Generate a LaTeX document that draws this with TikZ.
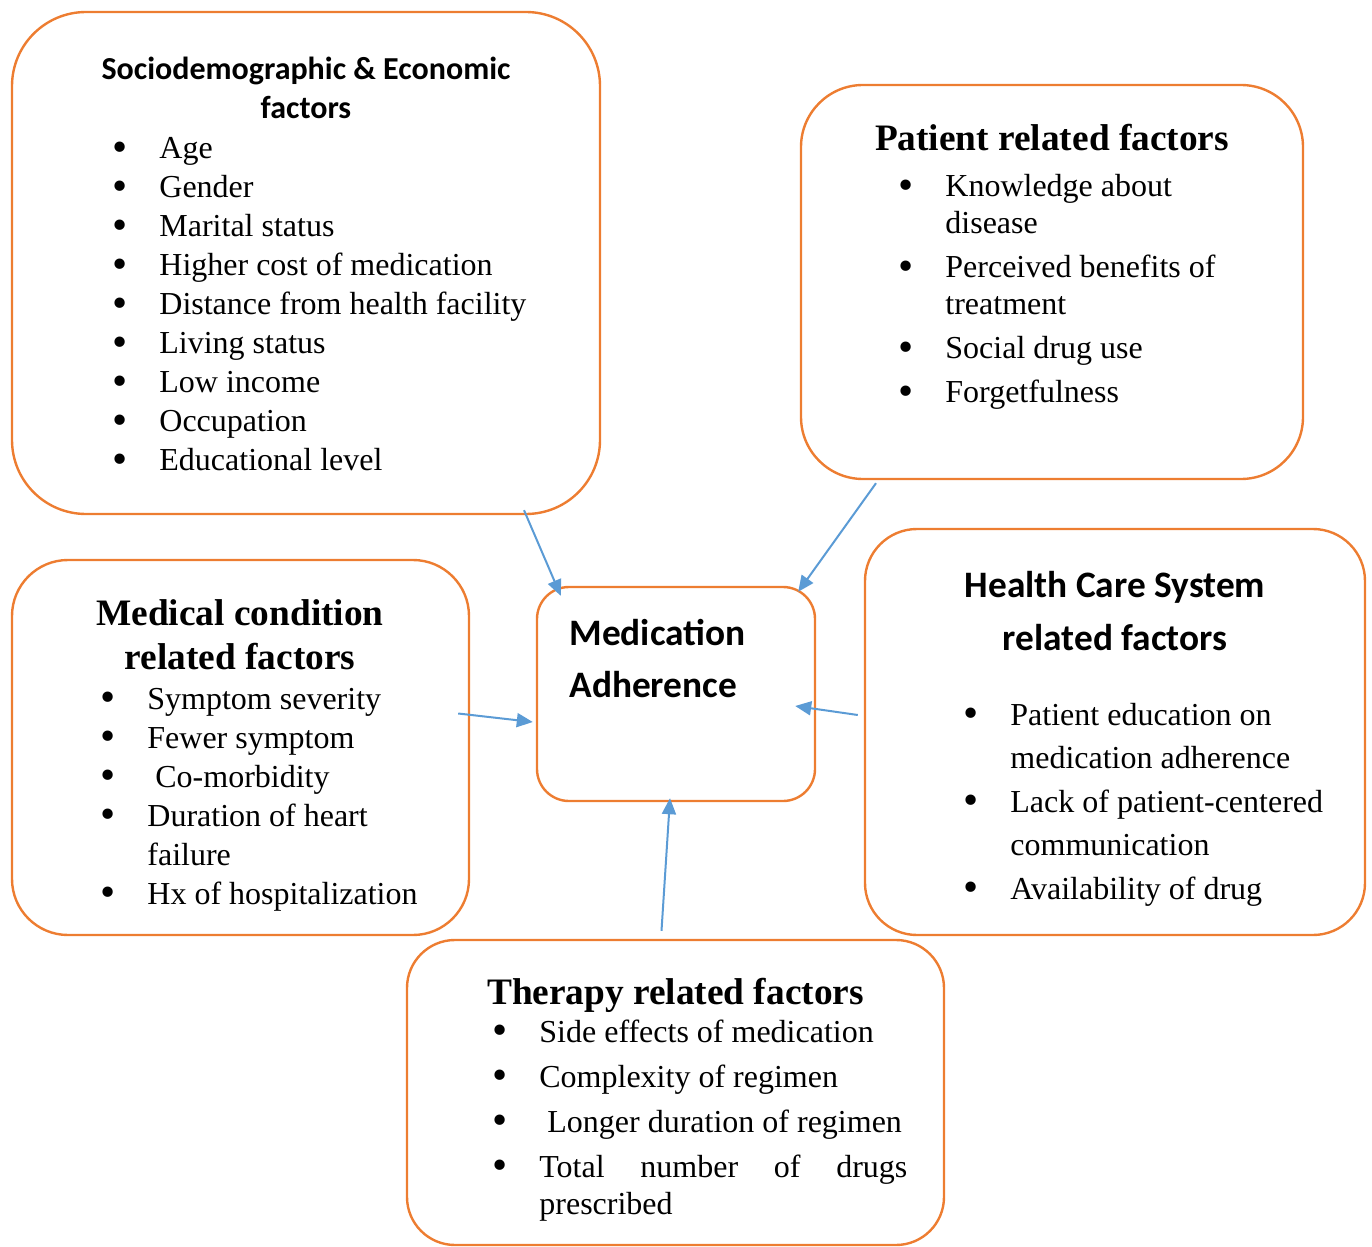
\documentclass[tikz,border=0pt]{standalone}
\usepackage{fontspec}
\setmainfont{Liberation Serif}
\newfontfamily\calibri{Carlito}
\usetikzlibrary{arrows.meta}

\definecolor{boxorange}{HTML}{ED7D31}
\definecolor{linkblue}{HTML}{5B9BD5}

% bullet and hanging indent for the factor lists
\newcommand{\blt}{\makebox[23.5pt][l]{\raisebox{-1.3pt}{\scalebox{1.35}{\textbullet}}}}
\newcommand{\cont}{\hspace*{23.5pt}}

\begin{document}
\begin{tikzpicture}[
  x=0.5pt, y=-0.5pt,
  factor/.style={draw=boxorange, line width=1.2pt, rounded corners=#1, inner sep=0pt},
  factor/.default=30pt,
  title/.style={inner sep=0pt, anchor=base, yshift=-1pt},
  list/.style={inner sep=0pt, anchor=base west, yshift=-1pt},
  flow/.style={draw=linkblue, line width=1pt, -{Triangle[length=8pt,width=7pt]}}
]
\useasboundingbox (0,0) rectangle (1372,1247);

% boxes
\node[factor=37pt, minimum width=294pt, minimum height=251pt] (socio) at (306,263) {};
\node[factor=31pt, minimum width=251pt, minimum height=197pt] (patient) at (1052,282) {};
\node[factor=28pt, minimum width=228.5pt, minimum height=187.5pt] (medical) at (240.5,747.5) {};
\node[factor=16pt, minimum width=139pt, minimum height=107pt] (adh) at (676,694) {};
\node[factor=26pt, minimum width=250pt, minimum height=203pt] (health) at (1115,732) {};
\node[factor=24pt, minimum width=268.5pt, minimum height=152.5pt] (therapy) at (675.5,1092.5) {};

% sociodemographic
\node[title, font=\calibri\bfseries\fontsize{16}{19.5}\selectfont] (socioT) at (306,78)
  {\parbox[t]{280pt}{\centering Sociodemographic \& Economic\\ factors}};
\node[list, font=\fontsize{16}{19.5}\selectfont] (socioL) at (112,157) {\parbox[t]{260pt}{%
  \blt Age\\ \blt Gender\\ \blt Marital status\\ \blt Higher cost of medication\\
  \blt Distance from health facility\\ \blt Living status\\ \blt Low income\\
  \blt Occupation\\ \blt Educational level}};

% patient
\node[title, font=\bfseries\fontsize{18.67}{22}\selectfont] (patientT) at (1052,149) {Patient related factors};
\node[list, font=\fontsize{16}{18.5}\selectfont] (patientL) at (898,195) {\parbox[t]{230pt}{%
  \blt Knowledge about\\ \cont disease\\[3.5pt]
  \blt Perceived benefits of\\ \cont treatment\\[3.5pt]
  \blt Social drug use\\[3.5pt]
  \blt Forgetfulness}};

% medical condition
\node[title, font=\bfseries\fontsize{18.67}{22}\selectfont] (medicalT) at (240,623)
  {\parbox[t]{220pt}{\centering Medical condition\\ related factors}};
\node[list, font=\fontsize{16}{19.5}\selectfont] (medicalL) at (100,707) {\parbox[t]{200pt}{%
  \blt Symptom severity\\ \blt Fewer symptom\\ \blt\hspace{4pt}Co-morbidity\\
  \blt Duration of heart\\ \cont failure\\ \blt Hx of hospitalization}};

% medication adherence
\node[list, font=\calibri\bfseries\fontsize{18.67}{26}\selectfont] (adhT) at (569,643)
  {\parbox[t]{120pt}{Medication\\ Adherence}};

% health care system
\node[title, font=\calibri\bfseries\fontsize{18.67}{26.5}\selectfont] (healthT) at (1115,595)
  {\parbox[t]{230pt}{\centering Health Care System\\ related factors}};
\node[list, font=\fontsize{16}{21.75}\selectfont] (healthL) at (963,723) {\parbox[t]{200pt}{%
  \blt Patient education on\\ \cont medication adherence\\
  \blt Lack of patient-centered\\ \cont communication\\
  \blt Availability of drug}};

% therapy
\node[title, font=\bfseries\fontsize{18.67}{22}\selectfont] (therapyT) at (675.5,1002) {Therapy related factors};
\node[list, font=\fontsize{16}{18.5}\selectfont] (therapyL) at (492,1040) {\parbox[t]{230pt}{%
  \blt Side effects of medication\\[4pt]
  \blt Complexity of regimen\\[4pt]
  \blt\hspace{4pt}Longer duration of regimen\\[4pt]
  \blt\hbox to 184pt{Total\hfill number\hfill of\hfill drugs}\\ \cont prescribed}};

% links into the centre box
\draw[flow] ([xshift=109pt,yshift=2.5pt]socio.south) -- ([xshift=12.5pt,yshift=-5pt]adh.north west);
\draw[flow] ([xshift=-88pt,yshift=-1.5pt]patient.south) -- ([xshift=-9pt,yshift=-3pt]adh.north east);
\draw[flow] ([xshift=-6pt,yshift=17pt]medical.east) -- ([xshift=-1.5pt,yshift=-14pt]adh.west);
\draw[flow] ([xshift=-3pt,yshift=8.5pt]health.west) -- ([xshift=-10.5pt,yshift=-6pt]adh.east);
\draw[flow] ([xshift=-7pt,yshift=4pt]therapy.north) -- ([xshift=-3pt,yshift=2pt]adh.south);
\end{tikzpicture}
\end{document}
